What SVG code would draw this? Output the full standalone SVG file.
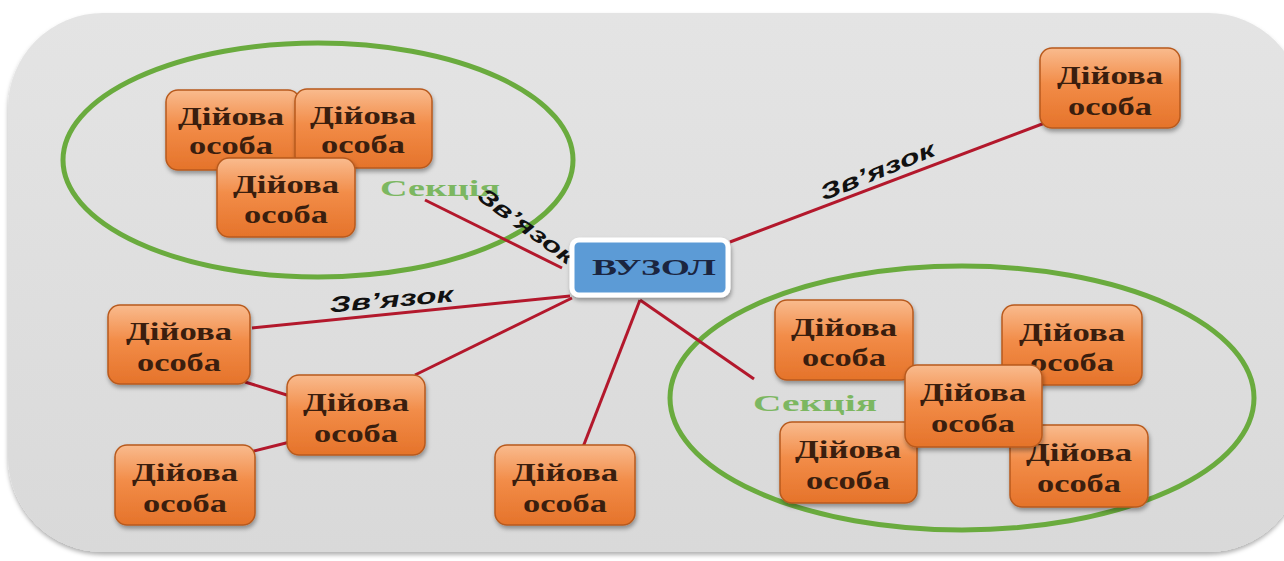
<svg xmlns="http://www.w3.org/2000/svg" width="1284" height="561" viewBox="0 0 1284 561">
<defs>
<linearGradient id="og" x1="0" y1="0" x2="0" y2="1">
<stop offset="0" stop-color="#f9bb8e"/>
<stop offset="0.45" stop-color="#f28c48"/>
<stop offset="1" stop-color="#e5732a"/>
</linearGradient>
<linearGradient id="bg" x1="0" y1="0" x2="0" y2="1">
<stop offset="0" stop-color="#e4e4e4"/>
<stop offset="1" stop-color="#d9d9d9"/>
</linearGradient>
<filter id="sh" x="-20%" y="-20%" width="140%" height="150%">
<feDropShadow dx="1" dy="3" stdDeviation="2" flood-color="#000" flood-opacity="0.35"/>
</filter>
<filter id="psh" x="-5%" y="-5%" width="110%" height="110%">
<feDropShadow dx="0" dy="3" stdDeviation="2" flood-color="#000" flood-opacity="0.3"/>
</filter>
</defs>
<style>
.nd rect{fill:url(#og);stroke:#b85a1e;stroke-width:1.5;filter:url(#sh)}
.nd text{font-family:"Liberation Serif",serif;font-size:25px;font-weight:bold;fill:#3a1e0e;text-anchor:middle}
.ln{stroke:#b3182c;stroke-width:3;fill:none}
.lb{font-family:"Liberation Sans",sans-serif;font-size:22px;font-weight:bold;font-style:italic;fill:#111;text-anchor:middle}
.sec{font-family:"Liberation Serif",serif;font-size:24px;font-weight:bold;fill:#7cb761;text-anchor:middle}
.ell{fill:none;stroke:#6aab3e;stroke-width:5}
</style>
<rect width="1284" height="561" fill="#ffffff"/>
<rect x="8" y="13" width="1295" height="539" rx="95" ry="95" fill="url(#bg)" filter="url(#psh)"/>
<g id="sections">
<ellipse class="ell" cx="318" cy="160" rx="255" ry="117"/>
<ellipse class="ell" cx="962" cy="398" rx="292" ry="132"/>
<text class="sec" x="440" y="196" textLength="120" lengthAdjust="spacingAndGlyphs">Секція</text>
<text class="sec" x="815" y="411" textLength="124" lengthAdjust="spacingAndGlyphs">Секція</text>
</g>
<g id="connectors">
<line class="ln" x1="425" y1="200" x2="562" y2="268"/>
<line class="ln" x1="730" y1="242" x2="1050" y2="121"/>
<line class="ln" x1="252" y1="328" x2="570" y2="296"/>
<line class="ln" x1="415" y1="375" x2="572" y2="298"/>
<line class="ln" x1="245" y1="382" x2="290" y2="396"/>
<line class="ln" x1="250" y1="452" x2="290" y2="442"/>
<line class="ln" x1="583" y1="447" x2="640" y2="300"/>
<line class="ln" x1="640" y1="300" x2="754" y2="379"/>
<text class="lb" transform="translate(522,232) rotate(36)" textLength="114" lengthAdjust="spacingAndGlyphs">Зв’язок</text>
<text class="lb" transform="translate(880,178) rotate(-22)" textLength="122" lengthAdjust="spacingAndGlyphs">Зв’язок</text>
<text class="lb" transform="translate(392,307) rotate(-5)" textLength="124" lengthAdjust="spacingAndGlyphs">Зв’язок</text>
</g>
<g id="node-vuzol">
<rect x="572" y="240" width="156" height="55" rx="7" fill="#5b9bd6" stroke="#ffffff" stroke-width="5" filter="url(#sh)"/>
<text x="654" y="275" font-family="Liberation Serif, serif" font-size="24" font-weight="bold" fill="#1b2540" text-anchor="middle" textLength="124" lengthAdjust="spacingAndGlyphs">ВУЗОЛ</text>
</g>
<g id="n1" class="nd"><rect x="166" y="90" width="134" height="80" rx="12"/><text x="231" y="125" textLength="106" lengthAdjust="spacingAndGlyphs">Дійова</text><text x="231" y="154" textLength="84" lengthAdjust="spacingAndGlyphs">особа</text></g>
<g id="n2" class="nd"><rect x="295" y="89" width="137" height="79" rx="12"/><text x="363" y="124" textLength="106" lengthAdjust="spacingAndGlyphs">Дійова</text><text x="363" y="153" textLength="84" lengthAdjust="spacingAndGlyphs">особа</text></g>
<g id="n3" class="nd"><rect x="217" y="158" width="138" height="79" rx="12"/><text x="286" y="193" textLength="106" lengthAdjust="spacingAndGlyphs">Дійова</text><text x="286" y="223" textLength="84" lengthAdjust="spacingAndGlyphs">особа</text></g>
<g id="n4" class="nd"><rect x="1040" y="48" width="140" height="80" rx="12"/><text x="1110" y="84" textLength="106" lengthAdjust="spacingAndGlyphs">Дійова</text><text x="1110" y="115" textLength="84" lengthAdjust="spacingAndGlyphs">особа</text></g>
<g id="n5" class="nd"><rect x="108" y="305" width="142" height="79" rx="12"/><text x="179" y="340" textLength="106" lengthAdjust="spacingAndGlyphs">Дійова</text><text x="179" y="371" textLength="84" lengthAdjust="spacingAndGlyphs">особа</text></g>
<g id="n6" class="nd"><rect x="287" y="375" width="138" height="80" rx="12"/><text x="356" y="411" textLength="106" lengthAdjust="spacingAndGlyphs">Дійова</text><text x="356" y="442" textLength="84" lengthAdjust="spacingAndGlyphs">особа</text></g>
<g id="n7" class="nd"><rect x="115" y="445" width="140" height="80" rx="12"/><text x="185" y="481" textLength="106" lengthAdjust="spacingAndGlyphs">Дійова</text><text x="185" y="512" textLength="84" lengthAdjust="spacingAndGlyphs">особа</text></g>
<g id="n8" class="nd"><rect x="495" y="445" width="140" height="80" rx="12"/><text x="565" y="481" textLength="106" lengthAdjust="spacingAndGlyphs">Дійова</text><text x="565" y="512" textLength="84" lengthAdjust="spacingAndGlyphs">особа</text></g>
<g id="n9" class="nd"><rect x="775" y="300" width="138" height="80" rx="12"/><text x="844" y="336" textLength="106" lengthAdjust="spacingAndGlyphs">Дійова</text><text x="844" y="366" textLength="84" lengthAdjust="spacingAndGlyphs">особа</text></g>
<g id="n10" class="nd"><rect x="1002" y="305" width="140" height="80" rx="12"/><text x="1072" y="341" textLength="106" lengthAdjust="spacingAndGlyphs">Дійова</text><text x="1072" y="371" textLength="84" lengthAdjust="spacingAndGlyphs">особа</text></g>
<g id="n11" class="nd"><rect x="1010" y="425" width="138" height="82" rx="12"/><text x="1079" y="461" textLength="106" lengthAdjust="spacingAndGlyphs">Дійова</text><text x="1079" y="492" textLength="84" lengthAdjust="spacingAndGlyphs">особа</text></g>
<g id="n13" class="nd"><rect x="780" y="422" width="137" height="81" rx="12"/><text x="848" y="458" textLength="106" lengthAdjust="spacingAndGlyphs">Дійова</text><text x="848" y="489" textLength="84" lengthAdjust="spacingAndGlyphs">особа</text></g>
<g id="n12" class="nd"><rect x="905" y="365" width="137" height="82" rx="12"/><text x="973" y="401" textLength="106" lengthAdjust="spacingAndGlyphs">Дійова</text><text x="973" y="432" textLength="84" lengthAdjust="spacingAndGlyphs">особа</text></g>
</svg>
